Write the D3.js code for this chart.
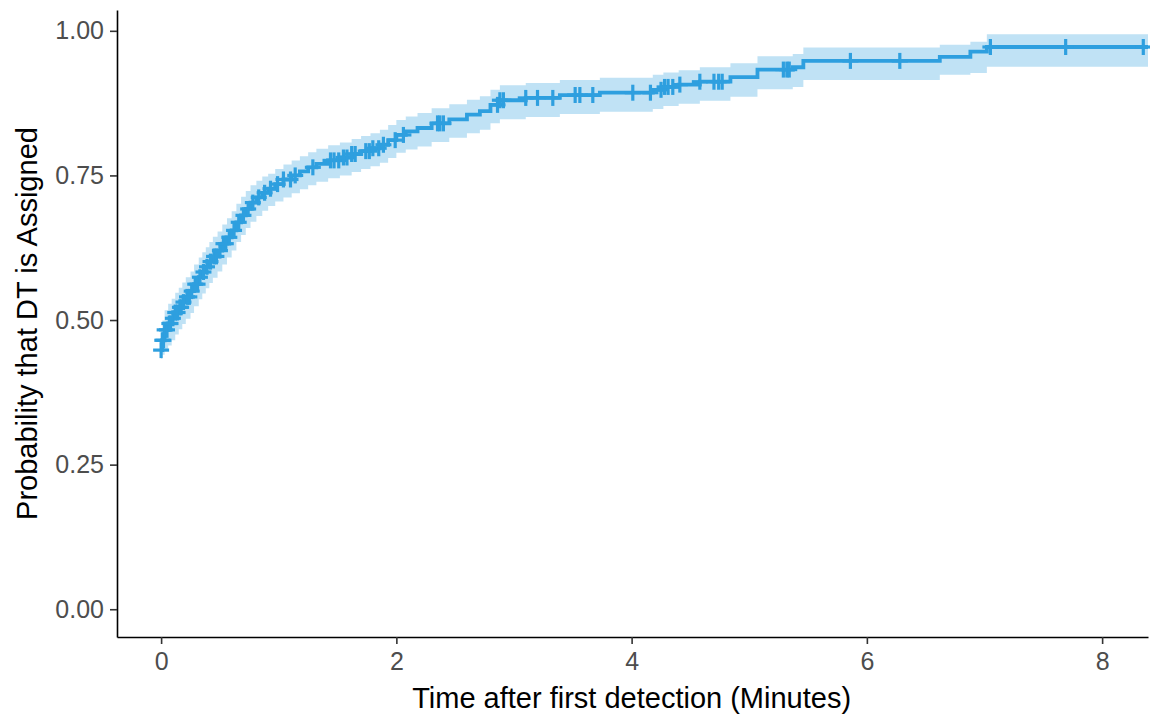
<!DOCTYPE html>
<html>
<head>
<meta charset="utf-8">
<script src="https://cdn.jsdelivr.net/npm/d3@7"></script>
<style>
  html, body { margin: 0; padding: 0; background: #fff; }
  svg { display: block; font-family: "Liberation Sans", Arial, sans-serif; }
</style>
</head>
<body>
<svg id="chart" width="1150" height="719"></svg>
<script>
// Cumulative probability of assignment: step times (minutes), estimate and 95% CI
const stepTimes = [0, 0.01, 0.03, 0.06, 0.09, 0.12, 0.15, 0.18, 0.21, 0.25, 0.28, 0.32, 0.35, 0.38, 0.41, 0.44,
  0.48, 0.52, 0.56, 0.60, 0.64, 0.68, 0.72, 0.76, 0.81, 0.86, 0.91, 0.97, 1.04, 1.11, 1.18, 1.25, 1.32, 1.42,
  1.52, 1.62, 1.70, 1.78, 1.86, 1.93, 2.00, 2.08, 2.18, 2.30, 2.45, 2.60, 2.71, 2.80, 2.88, 3.10, 3.39, 3.73,
  4.18, 4.27, 4.40, 4.58, 4.84, 5.07, 5.37, 5.46, 6.62, 6.88, 7.02];
const stepEstimate = [0.448, 0.465, 0.483, 0.494, 0.503, 0.513, 0.522, 0.531, 0.540, 0.550, 0.562, 0.574, 0.583, 0.592, 0.601, 0.610,
  0.620, 0.632, 0.643, 0.655, 0.669, 0.681, 0.692, 0.703, 0.712, 0.720, 0.727, 0.735, 0.743, 0.750, 0.757, 0.764, 0.770, 0.776,
  0.781, 0.787, 0.792, 0.797, 0.803, 0.811, 0.820, 0.826, 0.832, 0.840, 0.847, 0.855, 0.861, 0.872, 0.880, 0.884, 0.889, 0.893,
  0.898, 0.903, 0.907, 0.912, 0.920, 0.933, 0.937, 0.948, 0.955, 0.964, 0.972];
const stepLower = [0.433, 0.440, 0.447, 0.456, 0.465, 0.475, 0.484, 0.493, 0.502, 0.512, 0.524, 0.536, 0.546, 0.555, 0.564, 0.573,
  0.584, 0.596, 0.608, 0.620, 0.635, 0.647, 0.659, 0.670, 0.680, 0.689, 0.697, 0.705, 0.712, 0.719, 0.726, 0.733, 0.739, 0.745,
  0.750, 0.756, 0.761, 0.766, 0.772, 0.780, 0.789, 0.795, 0.800, 0.808, 0.815, 0.823, 0.829, 0.840, 0.847, 0.851, 0.856, 0.860,
  0.865, 0.870, 0.874, 0.879, 0.886, 0.899, 0.903, 0.915, 0.924, 0.927, 0.938];
const stepUpper = [0.482, 0.499, 0.517, 0.528, 0.537, 0.547, 0.556, 0.565, 0.574, 0.584, 0.596, 0.608, 0.617, 0.626, 0.635, 0.644,
  0.653, 0.665, 0.676, 0.688, 0.701, 0.713, 0.723, 0.733, 0.741, 0.748, 0.753, 0.761, 0.769, 0.776, 0.783, 0.790, 0.796, 0.802,
  0.807, 0.813, 0.818, 0.823, 0.829, 0.837, 0.846, 0.852, 0.858, 0.866, 0.873, 0.881, 0.887, 0.898, 0.906, 0.910, 0.915, 0.919,
  0.924, 0.928, 0.932, 0.937, 0.944, 0.956, 0.960, 0.971, 0.976, 0.981, 0.994];
const lastTime = 8.39;

// Censored observation times (minutes)
const censorTimes = [0, 0.01, 0.02, 0.03, 0.05, 0.07, 0.08, 0.10, 0.12, 0.14, 0.16, 0.17, 0.19, 0.22, 0.24, 0.26, 0.29,
  0.31, 0.33, 0.36, 0.39, 0.42, 0.45, 0.47, 0.50, 0.53, 0.55, 0.58, 0.62, 0.66, 0.70, 0.74, 0.78, 0.83, 0.88, 0.93,
  0.99, 1.04, 1.10, 1.14, 1.29, 1.44, 1.47, 1.51, 1.55, 1.58, 1.62, 1.65, 1.74, 1.77, 1.80, 1.85, 1.89, 1.99, 2.06,
  2.35, 2.37, 2.40, 2.86, 2.88, 2.91, 3.10, 3.20, 3.33, 3.52, 3.56, 3.67, 4.01, 4.16, 4.25, 4.28, 4.31, 4.35, 4.41,
  4.58, 4.70, 4.74, 4.77, 5.29, 5.32, 5.34, 5.86, 6.28, 7.05, 7.69, 8.35];

const xTicks = [0, 2, 4, 6, 8];
const yTicks = [0, 0.25, 0.5, 0.75, 1];

const xLabel = "Time after first detection (Minutes)";
const yLabel = "Probability that DT is Assigned";
const lineColor = "#2E9FDF";

const svg = d3.select("#chart");
const panel = { left: 117, right: 1148, top: 10, bottom: 637 };

const x = d3.scaleLinear().domain([-0.375, 8.39]).range([panel.left, panel.right]);
const y = d3.scaleLinear().domain([-0.048, 1.036]).range([panel.bottom, panel.top]);

const steps = stepTimes.map((t, i) => ({ t, v: stepEstimate[i], lo: stepLower[i], hi: stepUpper[i] }));
const last = steps[steps.length - 1];
steps.push({ t: lastTime, v: last.v, lo: last.lo, hi: last.hi });

// Confidence band
svg.append("path")
  .datum(steps)
  .attr("fill", lineColor)
  .attr("fill-opacity", 0.3)
  .attr("d", d3.area().curve(d3.curveStepAfter)
    .x(d => x(d.t)).y0(d => y(d.lo)).y1(d => y(d.hi)));

// Estimate
svg.append("path")
  .datum(steps)
  .attr("fill", "none")
  .attr("stroke", lineColor)
  .attr("stroke-width", 3.8)
  .attr("d", d3.line().curve(d3.curveStepAfter).x(d => x(d.t)).y(d => y(d.v)));

// Censor marks placed on the curve
const bis = d3.bisector(d => d.t).right;
const valueAt = t => steps[Math.max(0, bis(steps, t) - 1)].v;
const arm = 8;
const marks = svg.append("g").attr("stroke", lineColor).attr("stroke-width", 3.2);
censorTimes.forEach(t => {
  const cx = x(t), cy = y(valueAt(t));
  marks.append("line").attr("x1", cx - arm).attr("x2", cx + arm).attr("y1", cy).attr("y2", cy);
  marks.append("line").attr("x1", cx).attr("x2", cx).attr("y1", cy - arm).attr("y2", cy + arm);
});

// Axes
const xAxis = svg.append("g").attr("transform", `translate(0,${panel.bottom})`)
  .call(d3.axisBottom(x).tickValues(xTicks).tickFormat(d3.format("d"))
    .tickSizeInner(7).tickSizeOuter(0).tickPadding(8));
const yAxis = svg.append("g").attr("transform", `translate(${panel.left},0)`)
  .call(d3.axisLeft(y).tickValues(yTicks).tickFormat(d3.format(".2f"))
    .tickSizeInner(7).tickSizeOuter(0).tickPadding(6));

[xAxis, yAxis].forEach(g => {
  g.select(".domain").attr("stroke", "#000").attr("stroke-width", 1.6);
  g.selectAll(".tick line").attr("stroke", "#333").attr("stroke-width", 1.6);
  g.selectAll(".tick text").attr("fill", "#4d4d4d").attr("font-size", 25)
    .attr("font-family", "'Liberation Sans', Arial, sans-serif");
});

svg.append("text")
  .attr("x", (x(0) + x(8)) / 2)
  .attr("y", 708)
  .attr("text-anchor", "middle")
  .attr("font-size", 29)
  .attr("fill", "#000")
  .text(xLabel);

svg.append("text")
  .attr("transform", `translate(37,${(panel.top + panel.bottom) / 2}) rotate(-90)`)
  .attr("text-anchor", "middle")
  .attr("font-size", 29)
  .attr("fill", "#000")
  .text(yLabel);
</script>
</body>
</html>
